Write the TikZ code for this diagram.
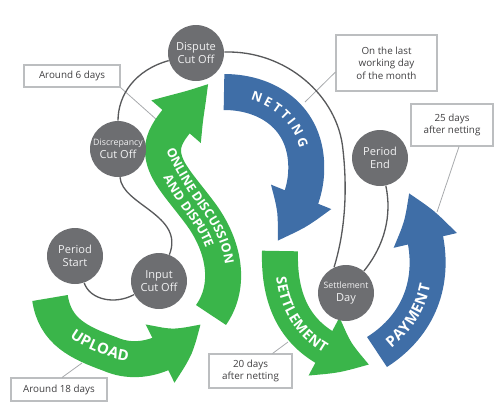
\documentclass[tikz,border=0pt]{standalone}
\usepackage{fontspec}
\setmainfont{Open Sans}
\usetikzlibrary{arrows.meta, bending, decorations.text, calc}
\definecolor{flowgreen}{HTML}{3AB54A}
\definecolor{flowblue}{HTML}{3F6EA7}
\definecolor{dotgrey}{HTML}{6D6E71}
\definecolor{dottext}{HTML}{F1F1F2}
\definecolor{linkgrey}{HTML}{58595B}
\definecolor{boxgrey}{HTML}{BCBEC0}
\definecolor{leadgrey}{HTML}{A7A9AC}
\definecolor{txtgrey}{HTML}{414042}
\newcommand\uploadfont{\bfseries\fontsize{8.5}{10}\selectfont\color{white}}
\newcommand\onlinefont{\bfseries\fontsize{7.2}{9}\selectfont\color{white}}
\newcommand\nettingfont{\bfseries\fontsize{7.3}{9}\selectfont\color{white}}
\newcommand\settlefont{\bfseries\fontsize{8}{10}\selectfont\color{white}}
\newcommand\payfont{\bfseries\fontsize{8.5}{10}\selectfont\color{white}}

\begin{document}
\begin{tikzpicture}[x=0.02cm, y=-0.02cm,
  band/.style={#1, line width=0.72cm, -{Triangle[length=1.04cm, width=1.2cm, bend]}},
  bandtext/.style={decorate, decoration={text along path, text align=center, raise=#1}},
  dot/.style={circle, fill=dotgrey, minimum size=1.12cm, inner sep=0pt, align=center,
    text=dottext, font=\fontsize{6.3}{7.5}\selectfont},
  note/.style={draw=boxgrey, line width=0.6pt, fill=white, inner sep=0pt, align=center,
    text=txtgrey, font=\fontsize{5.6}{7.2}\selectfont},
  link/.style={linkgrey, line width=0.75pt},
  lead/.style={leadgrey, line width=0.45pt},
]

\useasboundingbox (0,0) rectangle (500,417);

% =============================================
% Notes and their leader lines
% =============================================
\node[note, minimum width=1.92cm, minimum height=0.44cm] (box6) at (72,76) {Around 6 days};
\node[note, minimum width=2.02cm, minimum height=1.12cm] (boxlast) at (386.5,63)
  {On the last\\working day\\of the month};
\node[note, minimum width=1.64cm, minimum height=0.84cm] (box25) at (452,125)
  {25 days\\after netting};
\node[note, minimum width=1.92cm, minimum height=0.46cm] (box18) at (59,389.5) {Around 18 days};
\node[note, minimum width=1.66cm, minimum height=0.68cm] (box20) at (250.5,371)
  {20 days\\after netting};

\coordinate (c6) at (157,120);
\coordinate (clast) at (305,102);
\coordinate (c25) at (437,212);
\coordinate (c18) at (82,363);
\coordinate (c20) at (288,342);

\draw[lead] (box6.south east) -- (c6);
\draw[lead] ($(boxlast.west)+(0,9)$) -- (clast);
\draw[lead] ($(box25.south)+(7,0)$) -- (c25);
\draw[lead] ($(box18.north)+(3,0)$) -- (c18);
\draw[lead] ($(box20.north)+(22,0)$) -- (c20);

% =============================================
% Process bands
% =============================================
% Upload
\draw[band=flowgreen] (50,298) .. controls (55,332) and (80,343) .. (110,354)
  .. controls (142,368) and (178,352) .. (200,323);
% Online discussion and dispute
\draw[band=flowgreen] (211,315) .. controls (232,285) and (224,245) .. (200,213)
  .. controls (179,185) and (163,170) .. (163,150)
  .. controls (163,128) and (190,110) .. (208,83);
% Netting
\draw[band=flowblue] (224,92) .. controls (270,92) and (310,120) .. (306,175)
  .. controls (304,200) and (292,220) .. (277,241);
% Settlement
\draw[band=flowgreen] (280,251) .. controls (278,320) and (312,352) .. (370,364);
% Payment
\draw[band=flowblue] (377,352) .. controls (435,315) and (440,250) .. (408,193);

% Band labels
\path[bandtext=-1.5pt, decoration={text={|\uploadfont|UPLOAD}}]
  (57.3,319.5) .. controls (67.8,337.5) and (87.5,345.75) .. (110,354)
  .. controls (122.8,359.6) and (136.3,360.3) .. (149.2,357.6);
\path[bandtext=1.6pt, decoration={text={|\onlinefont|ONLINE DISCUSSION}}]
  (160,142) .. controls (168,165) and (185,193) .. (200,213)
  .. controls (214.4,232.2) and (223,254.3) .. (223.1,275.3);
\path[bandtext=-6.8pt, decoration={text={|\onlinefont|AND DISPUTE}}]
  (160,142) .. controls (168,165) and (185,193) .. (200,213)
  .. controls (214.4,232.2) and (223,254.3) .. (223.1,275.3);
\path[bandtext=-2.6pt, decoration={text={|\nettingfont|N E T T I N G}}]
  (224,92) .. controls (270,92) and (310,120) .. (306,175);
\path[bandtext=-2.85pt, decoration={text={|\settlefont|SETTLEMENT}}]
  (280,251) .. controls (278.2,311.7) and (304.4,343.8) .. (350.2,358.8);
\path[bandtext=-3pt, decoration={text={|\payfont|PAYMENT}}]
  (377,352) .. controls (408.9,331.65) and (424.7,302.8) .. (426.8,271.2);

% =============================================
% Milestones
% =============================================
\node[dot] (dispute) at (196,53) {Dispute\\Cut Off};
\node[dot] (discr) at (118,149) {{\fontsize{5}{7.5}\selectfont Discrepancy}\\Cut Off};
\node[dot] (pstart) at (75,256) {Period\\Start};
\node[dot] (input) at (159,281) {Input\\Cut Off};
\node[dot] (pend) at (380,158) {Period\\End};
\node[dot] (sday) at (346,293) {{\fontsize{5}{7.5}\selectfont Settlement}\\Day};

\draw[link] (dispute) .. controls (135,70) and (118,95) .. (discr);
\draw[link] (discr) .. controls (122,205) and (185,215) .. (input);
\draw[link] (pstart) .. controls (90,300) and (115,305) .. (input);
\draw[link] (dispute) .. controls (285,50) and (338,95) .. (343,150)
  .. controls (348,195) and (344,235) .. (sday.115);
\draw[link] (pend) .. controls (392,215) and (385,245) .. (sday);

\end{tikzpicture}
\end{document}
